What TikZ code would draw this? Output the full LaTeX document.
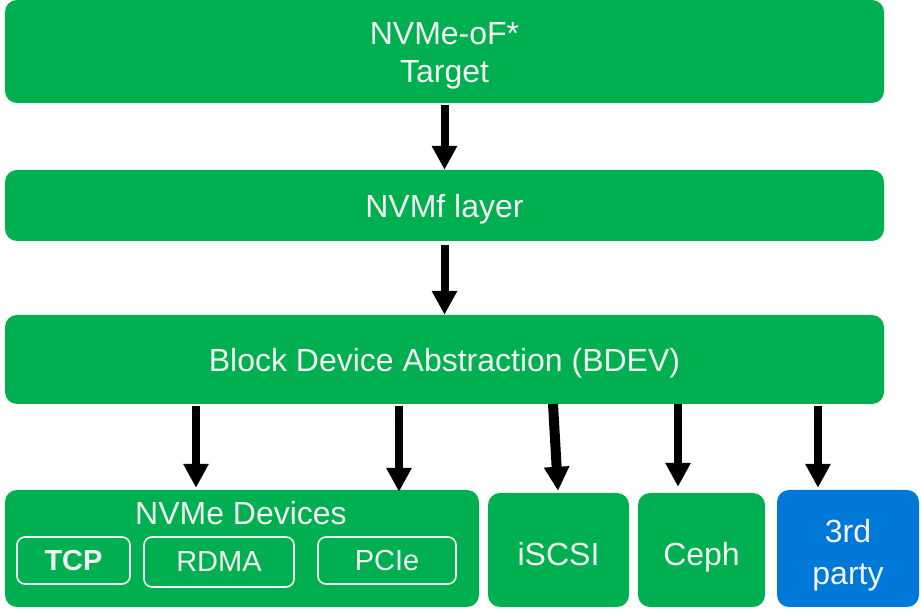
\documentclass[tikz,border=0pt]{standalone}
\usepackage{fontspec}
\setmainfont{Liberation Sans}
\usetikzlibrary{arrows.meta,calc}
\definecolor{gr}{HTML}{00B050}
\definecolor{bl}{HTML}{0078D7}
\definecolor{tx}{HTML}{F2F2F2}
\tikzset{
  blk/.style={rectangle, rounded corners=12pt, fill=gr, draw=none, inner sep=0pt},
  lbl/.style={text=tx, inner sep=0pt, font=\fontsize{32}{38}\selectfont, align=center},
  sub/.style={rectangle, rounded corners=8pt, fill=gr, draw=tx, line width=1.6pt, text=tx, inner sep=0pt,
     font=\fontsize{29}{34}\selectfont},
  arr/.style={line width=8pt, -{Triangle[width=24pt,length=24pt]}, black}
}
\begin{document}
\begin{tikzpicture}[x=1pt,y=-1pt]
\useasboundingbox (0,0) rectangle (922,609);
\node[blk, minimum width=879pt, minimum height=103pt] (target) at (444.5,51.5) {};
\node[lbl] (targetlbl) at ($(target.center)+(0,4)$) {NVMe-oF*\\Target};
\node[blk, minimum width=879pt, minimum height=71pt] (nvmf) at (444.5,205.5) {};
\node[lbl] (nvmflbl) at ($(nvmf.center)+(0,4)$) {NVMf layer};
\node[blk, minimum width=879pt, minimum height=89pt] (bdev) at (444.5,359.5) {};
\node[lbl] (bdevlbl) at ($(bdev.center)+(0,4)$) {Block Device Abstraction (BDEV)};
\node[blk, minimum width=474pt, minimum height=117pt] (nvme) at (242,548.5) {};
\node[lbl] (nvmelbl) at (241,513) {NVMe Devices};
\node[sub, minimum width=113pt, minimum height=47pt, font=\fontsize{29}{34}\selectfont\bfseries] (tcp) at (73.5,560.5) {TCP};
\node[sub, minimum width=150pt, minimum height=50pt] (rdma) at (219,562) {RDMA};
\node[sub, minimum width=138pt, minimum height=47pt] (pcie) at (387,560.5) {PCIe};
\node[blk, minimum width=141pt, minimum height=114pt] (iscsi) at (558.5,550) {};
\node[lbl] (iscsilbl) at ($(iscsi.center)+(0,4)$) {iSCSI};
\node[blk, minimum width=127pt, minimum height=114pt] (ceph) at (701.5,550) {};
\node[lbl] (cephlbl) at ($(ceph.center)+(0,7)$) {Ceph};
\node[blk, fill=bl, minimum width=142pt, minimum height=117pt] (third) at (848,548.5) {};
\node[lbl, font=\fontsize{32}{42}\selectfont] (thirdlbl) at ($(third.center)+(0,7)$) {3rd\\party};
\coordinate (s1) at (196,406);
\coordinate (s2) at (399,406);
\coordinate (s3) at (553,404);
\coordinate (s4) at (678,404);
\coordinate (s5) at (818,406);
\draw[arr] ([yshift=-2pt]target.south) -- (nvmf.north);
\draw[arr] ([yshift=-4pt]nvmf.south) -- (bdev.north);
\draw[arr] (s1) -- ([yshift=2pt]s1 |- nvme.north);
\draw[arr] (s2) -- ([yshift=-2pt]s2 |- nvme.north);
\draw[arr, line width=10pt] (s3) -- ([xshift=5pt,yshift=2pt]s3 |- iscsi.north);
\draw[arr] (s4) -- ([yshift=6pt]s4 |- ceph.north);
\draw[arr] (s5) -- ([yshift=2pt]s5 |- third.north);
\end{tikzpicture}
\end{document}
